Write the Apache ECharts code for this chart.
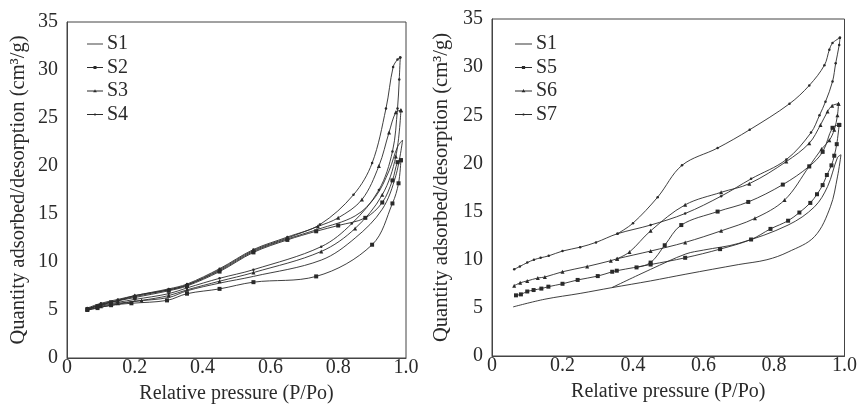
<!DOCTYPE html>
<html>
<head>
<meta charset="utf-8">
<script src="https://cdn.jsdelivr.net/npm/echarts@6/dist/echarts.min.js"></script>
<style>
html,body{margin:0;padding:0;background:#fff;}
#c{width:860px;height:418px;}
</style>
</head>
<body>
<div id="c"></div>
<script>
// ---------- Data (x = P/Po, y = quantity cm³/g) ----------
var xTicks = [0, 0.2, 0.4, 0.6, 0.8, 1.0];
var yTicks = [0, 5, 10, 15, 20, 25, 30, 35];
var legendLeft = ['S1', 'S2', 'S3', 'S4'];
var legendRight = ['S1', 'S5', 'S6', 'S7'];

// Left panel
var L_S1_ads = [[0.06,5.0],[0.1,5.3],[0.15,5.6],[0.2,5.9],[0.3,6.3],[0.354,7.0],[0.45,7.8],[0.55,8.5],[0.75,10.2],[0.85,12.5],[0.93,15.5],[0.97,19.0],[0.99,22.7]];
var L_S1_des = [[0.99,22.7],[0.975,22.0],[0.95,19.5],[0.91,16.8],[0.85,14.8],[0.74,13.4],[0.65,12.4],[0.55,11.1],[0.45,9.1],[0.354,7.6],[0.3,7.1],[0.2,6.4],[0.14,5.9],[0.1,5.6],[0.06,5.1]];
var L_S2_ads = [[0.06,5.0],[0.09,5.2],[0.13,5.5],[0.19,5.7],[0.295,6.0],[0.354,6.7],[0.45,7.2],[0.55,7.9],[0.735,8.5],[0.9,11.8],[0.96,16.1],[0.978,18.2],[0.985,20.6]];
var L_S2_des = [[0.985,20.6],[0.975,20.4],[0.96,18.5],[0.93,16.2],[0.88,14.6],[0.8,13.8],[0.735,13.2],[0.65,12.3],[0.55,11.0],[0.45,9.0],[0.354,7.5],[0.3,7.0],[0.2,6.3],[0.13,5.8],[0.09,5.4],[0.06,5.1]];
var L_S3_ads = [[0.06,5.0],[0.1,5.4],[0.15,5.7],[0.22,6.0],[0.3,6.5],[0.354,7.1],[0.45,8.0],[0.55,8.9],[0.75,11.1],[0.85,13.5],[0.93,17.0],[0.97,21.0],[0.985,25.8]];
var L_S3_des = [[0.985,25.8],[0.97,25.6],[0.95,23.5],[0.92,20.0],[0.87,16.5],[0.8,14.6],[0.74,13.7],[0.65,12.5],[0.55,11.2],[0.45,9.2],[0.354,7.6],[0.3,7.1],[0.2,6.5],[0.15,6.0],[0.1,5.6],[0.06,5.1]];
var L_S4_ads = [[0.06,5.1],[0.1,5.5],[0.15,5.8],[0.2,6.1],[0.3,6.7],[0.354,7.3],[0.45,8.3],[0.55,9.2],[0.75,11.6],[0.84,14.0],[0.92,17.5],[0.96,21.5],[0.975,26.0],[0.98,29.0],[0.983,31.3]];
var L_S4_des = [[0.983,31.3],[0.975,31.1],[0.962,30.3],[0.941,26.0],[0.9,20.3],[0.845,17.0],[0.746,13.9],[0.65,12.6],[0.55,11.3],[0.45,9.3],[0.354,7.7],[0.3,7.2],[0.2,6.5],[0.15,6.1],[0.1,5.7],[0.06,5.2]];

// Right panel
var R_S1_ads = [[0.06,5.1],[0.15,5.9],[0.25,6.5],[0.34,7.1],[0.45,7.8],[0.55,8.5],[0.7,9.5],[0.78,10.0],[0.84,10.8],[0.915,12.4],[0.96,15.5],[0.98,18.6],[0.99,20.9]];
var R_S1_des = [[0.99,20.9],[0.98,20.6],[0.952,17.6],[0.915,15.5],[0.84,13.6],[0.7,11.7],[0.6,11.0],[0.55,10.6],[0.45,9.0],[0.34,7.1]];
var R_S5_ads = [[0.068,6.3],[0.082,6.4],[0.1,6.7],[0.118,6.85],[0.14,7.0],[0.16,7.2],[0.2,7.5],[0.243,7.9],[0.3,8.3],[0.341,8.75],[0.354,8.86],[0.45,9.5],[0.548,10.2],[0.647,11.1],[0.735,12.1],[0.79,13.2],[0.84,14.05],[0.872,14.9],[0.903,15.9],[0.922,16.8],[0.938,17.75],[0.95,18.8],[0.963,19.8],[0.971,20.8],[0.978,22.0],[0.985,24.0]];
var R_S5_des = [[0.985,24.0],[0.966,23.7],[0.938,21.2],[0.9,19.7],[0.825,17.8],[0.727,16.0],[0.64,15.0],[0.537,13.6],[0.49,11.5],[0.45,9.7],[0.41,9.2]];
var R_S6_ads = [[0.063,7.3],[0.08,7.6],[0.1,7.8],[0.13,8.1],[0.15,8.2],[0.2,8.75],[0.27,9.3],[0.337,9.9],[0.355,10.1],[0.45,10.9],[0.548,11.8],[0.65,13.0],[0.746,14.3],[0.83,16.2],[0.9,19.7],[0.935,21.5],[0.957,22.4],[0.971,23.5],[0.98,25.0],[0.983,26.2]];
var R_S6_des = [[0.983,26.2],[0.965,26.0],[0.952,25.4],[0.932,24.0],[0.9,22.1],[0.835,20.2],[0.73,17.9],[0.65,17.0],[0.548,15.7],[0.45,13.0],[0.39,10.8],[0.355,10.1]];
var R_S7_ads = [[0.063,9.0],[0.079,9.3],[0.1,9.7],[0.119,10.0],[0.138,10.2],[0.161,10.4],[0.2,10.9],[0.25,11.3],[0.295,11.8],[0.356,12.7],[0.45,13.6],[0.548,14.8],[0.65,16.6],[0.735,18.4],[0.835,20.4],[0.905,23.2],[0.929,25.0],[0.946,26.4],[0.966,28.5],[0.975,30.4],[0.985,32.3],[0.987,33.05]];
var R_S7_des = [[0.987,33.05],[0.966,32.5],[0.957,31.8],[0.943,30.2],[0.9,28.1],[0.844,26.2],[0.731,23.5],[0.64,21.6],[0.539,19.8],[0.47,16.5],[0.4,13.8],[0.356,12.7]];

// ---------- Chart ----------
var FONT = '"Liberation Serif", "Times New Roman", serif';
var INK = '#2a2a2a';
var symbolStyles = {
  S1: {symbol: 'none', size: 0},
  S2: {symbol: 'rect', size: 4},
  S3: {symbol: 'triangle', size: 4},
  S4: {symbol: 'circle', size: 2.5},
  S5: {symbol: 'rect', size: 4},
  S6: {symbol: 'triangle', size: 4},
  S7: {symbol: 'circle', size: 2.5}
};
// legend icons: thin line (box 0..18 x 0..8) with a small marker in the middle
var ICON_LINE = 'M0,0 M18,8 M0,3.5 L18,3.5 L18,4.5 L0,4.5 Z';
var legendIcons = {
  S1: 'path://' + ICON_LINE,
  S2: 'path://' + ICON_LINE + ' M7.3,2.3 L10.7,2.3 L10.7,5.7 L7.3,5.7 Z',
  S3: 'path://' + ICON_LINE + ' M9,2 L11,5.3 L7,5.3 Z',
  S4: 'path://' + ICON_LINE + ' M8.2,3 L9.8,3 L9.8,5 L8.2,5 Z',
  S5: 'path://' + ICON_LINE + ' M7.3,2.3 L10.7,2.3 L10.7,5.7 L7.3,5.7 Z',
  S6: 'path://' + ICON_LINE + ' M9,2 L11,5.3 L7,5.3 Z',
  S7: 'path://' + ICON_LINE + ' M8.2,3 L9.8,3 L9.8,5 L8.2,5 Z'
};

function mk(name, data, gi) {
  var s = symbolStyles[name];
  return {
    type: 'line', name: name, xAxisIndex: gi, yAxisIndex: gi,
    data: data, smooth: 0.35,
    symbol: s.symbol, symbolSize: s.size, showSymbol: s.symbol !== 'none',
    lineStyle: {color: INK, width: 0.9},
    itemStyle: {color: INK},
    emphasis: {disabled: true}, animation: false
  };
}

function xAx(gi) {
  return {
    type: 'value', gridIndex: gi, min: 0, max: 1, interval: 0.2,
    name: 'Relative pressure (P/Po)', nameLocation: 'middle', nameGap: 26,
    nameTextStyle: {fontFamily: FONT, fontSize: 20, color: INK},
    axisLine: {show: true, lineStyle: {color: '#444', width: 1}},
    axisTick: {show: false}, splitLine: {show: false},
    axisLabel: {margin: 0, fontFamily: FONT, fontSize: 20, color: INK,
      formatter: function (v) { return v === 0 ? '0' : v.toFixed(1); }}
  };
}
function yAx(gi, gap) {
  return {
    type: 'value', gridIndex: gi, min: yTicks[0], max: yTicks[yTicks.length - 1], interval: 5,
    name: 'Quantity adsorbed/desorption (cm³/g)', nameLocation: 'middle', nameGap: gap,
    nameTextStyle: {fontFamily: FONT, fontSize: 20.5, color: INK},
    axisLine: {show: true, lineStyle: {color: '#444', width: 1}},
    axisTick: {show: false}, splitLine: {show: false},
    axisLabel: {margin: 9, fontFamily: FONT, fontSize: 20, color: INK}
  };
}
function lg(names, left, w) {
  return {
    data: names.map(function (n) { return {name: n, icon: legendIcons[n]}; }),
    orient: 'vertical', left: left, top: 29,
    itemWidth: w, itemHeight: 8, itemGap: 3.5,
    textStyle: {fontFamily: FONT, fontSize: 20, color: INK, lineHeight: 20, padding: [0, 0, 0, -1]},
    selectedMode: false
  };
}

var chart = echarts.init(document.getElementById('c'), null, {renderer: 'canvas'});
chart.setOption({
  backgroundColor: '#fff',
  animation: false,
  grid: [
    {left: 67, right: 454, top: 22, bottom: 60, show: true, borderColor: '#444', borderWidth: 1},
    {left: 492, right: 13, top: 19, bottom: 62, show: true, borderColor: '#444', borderWidth: 1}
  ],
  xAxis: [xAx(0), xAx(1)],
  yAxis: [yAx(0, 38), yAx(1, 40)],
  legend: [lg(legendLeft, 82, 16), lg(legendRight, 510, 17)],
  series: [
    mk('S1', L_S1_ads, 0), mk('S1', L_S1_des, 0),
    mk('S2', L_S2_ads, 0), mk('S2', L_S2_des, 0),
    mk('S3', L_S3_ads, 0), mk('S3', L_S3_des, 0),
    mk('S4', L_S4_ads, 0), mk('S4', L_S4_des, 0),
    mk('S1', R_S1_ads, 1), mk('S1', R_S1_des, 1),
    mk('S5', R_S5_ads, 1), mk('S5', R_S5_des, 1),
    mk('S6', R_S6_ads, 1), mk('S6', R_S6_des, 1),
    mk('S7', R_S7_ads, 1), mk('S7', R_S7_des, 1)
  ]
});
</script>
</body>
</html>
